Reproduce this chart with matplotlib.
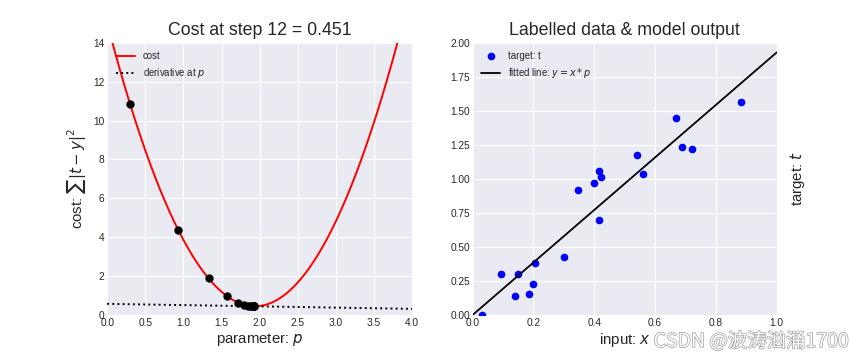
import numpy as np
import matplotlib
matplotlib.use("Agg")
import matplotlib.pyplot as plt
import matplotlib.patheffects as pe

plt.style.use("seaborn-v0_8-darkgrid")
plt.rcParams['font.family'] = ['Liberation Sans', 'DejaVu Sans']
plt.rcParams['mathtext.fontset'] = 'dejavusans'

# Data
x_data = [0.030, 0.092, 0.148, 0.141, 0.187, 0.200, 0.204, 0.302, 0.345, 0.398,
          0.417, 0.421, 0.417, 0.539, 0.559, 0.670, 0.687, 0.720, 0.881]
t_data = [0.000, 0.300, 0.300, 0.140, 0.152, 0.226, 0.380, 0.425, 0.918, 0.969,
          1.058, 1.013, 0.697, 1.175, 1.036, 1.448, 1.234, 1.220, 1.566]
# parameter values visited by gradient descent
p_steps = [0.30, 0.93, 1.33, 1.57, 1.72, 1.80, 1.85, 1.88, 1.90, 1.91, 1.92, 1.925, 1.93]
p_final = 1.93
title_left = "Cost at step 12 = 0.451"
title_right = "Labelled data & model output"

x = np.array(x_data)
t = np.array(t_data)

def cost(p):
    p = np.atleast_1d(p)
    return ((t[None, :] - x[None, :] * p[:, None]) ** 2).sum(axis=1)

def grad(p):
    return (-2 * x * (t - x * p)).sum()

fig = plt.figure(figsize=(8.64, 3.6), dpi=100)
ax1 = fig.add_axes([0.124, 0.125, 0.353, 0.756])
ax2 = fig.add_axes([0.547, 0.125, 0.352, 0.756])

# Left panel
ps = np.linspace(0, 4, 400)
ax1.plot(ps, cost(ps), color='red', lw=1.4, label='cost')
c_last = cost(p_final)[0]
g_last = grad(p_final)
ax1.plot(ps, c_last + g_last * (ps - p_final), 'k:', lw=1.4, label='derivative at $p$')
ax1.plot(p_steps, cost(np.array(p_steps)), 'ko', ms=5)
ax1.set_xlim(0, 4)
ax1.set_ylim(0, 14)
ax1.set_xticks(np.arange(0, 4.01, 0.5))
ax1.set_yticks(np.arange(0, 15, 2))
ax1.set_title(title_left, fontsize=12.8)
ax1.set_xlabel('parameter: $p$', fontsize=10.8, labelpad=2)
ax1.set_ylabel('cost: $\\sum|t-y|^2$', fontsize=10.8, labelpad=4)
ax1.tick_params(labelsize=7.3, pad=2)
ax1.legend(loc='upper left', fontsize=6.9, frameon=False)

# Right panel
ax2.plot(x, t, 'o', color='blue', ms=4.5, label='target: t')
xl = np.array([0.0, 1.0])
ax2.plot(xl, xl * p_final, 'k-', lw=1.3, label='fitted line: $y = x * p$')
ax2.set_xlim(0, 1)
ax2.set_ylim(0, 2)
ax2.set_yticks(np.arange(0, 2.01, 0.25))
ax2.set_yticklabels([f"{v:.2f}" for v in np.arange(0, 2.01, 0.25)])
ax2.set_title(title_right, fontsize=12.8)
ax2.set_xlabel('input: $x$', fontsize=10.8, labelpad=2)
ax2.yaxis.set_label_position('right')
ax2.set_ylabel('target: $t$', fontsize=10.8, labelpad=8)
ax2.tick_params(labelsize=7.3, pad=2)
ax2.legend(loc='upper left', fontsize=6.9, frameon=False)

fig.text(0.983, 0.022, 'CSDN @波涛汹涌1700', ha='right', va='bottom', fontsize=14,
         color='white', family=['Noto Sans CJK SC', 'DejaVu Sans'],
         path_effects=[pe.withStroke(linewidth=1.0, foreground='#a0a0a0')])

fig.savefig('out.png', dpi=100)
